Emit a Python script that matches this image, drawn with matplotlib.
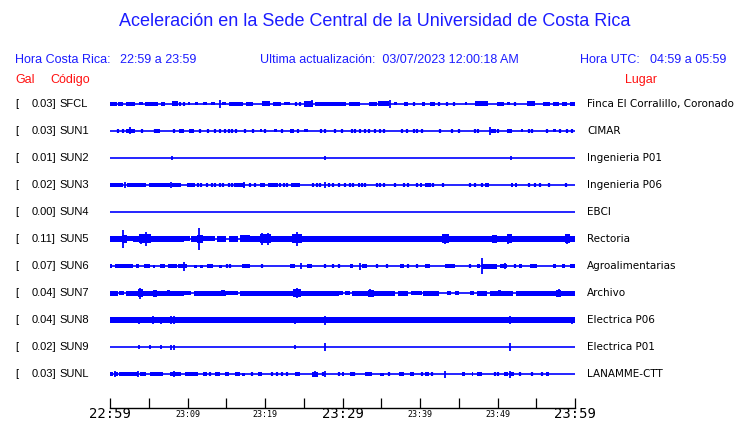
import matplotlib
matplotlib.use("Agg")
import matplotlib.pyplot as plt
from matplotlib.transforms import blended_transform_factory

# ---------------- data ----------------
codes = ["SFCL", "SUN1", "SUN2", "SUN3", "SUN4", "SUN5", "SUN6", "SUN7", "SUN8", "SUN9", "SUNL"]
gal = [0.03, 0.03, 0.01, 0.02, 0.00, 0.11, 0.07, 0.04, 0.04, 0.02, 0.03]
places = ["Finca El Corralillo, Coronado", "CIMAR", "Ingenieria P01", "Ingenieria P06", "EBCI",
          "Rectoria", "Agroalimentarias", "Archivo", "Electrica P06", "Electrica P01", "LANAMME-CTT"]
tick_minutes = list(range(0, 61, 5))
tick_labels = ["22:59", "", "23:09", "", "23:19", "", "23:29", "", "23:39", "", "23:49", "", "23:59"]

# envelope segments per station: (start minute, end minute, half amplitude)
sfcl_seg = [(0, 0.9, 2), (1, 1.7, 2), (2.1, 3.2, 2), (3.7, 4.3, 1.5), (4.5, 6.2, 2), (6.6, 7.1, 2),
            (8, 8.8, 2.5), (10, 10.3, 1.5), (11, 11.4, 1.5), (12, 12.5, 1.5), (13, 13.5, 1.5),
            (14.5, 15, 1.5), (15.3, 17.2, 2), (17.6, 18.5, 2), (19.6, 20.6, 2.5), (21, 22.1, 2),
            (22.5, 23.2, 1.5), (25, 26.2, 3), (26.5, 30.5, 2), (30.8, 32.3, 2), (33.4, 34.4, 2),
            (34.6, 36, 2.5), (36.6, 37, 1.5), (37.9, 38.5, 2), (40.2, 40.7, 2), (41.3, 41.9, 2),
            (45.8, 46.1, 1.5), (47.1, 48.8, 2.5), (49.9, 50.8, 2), (51.2, 51.6, 1.5), (53.8, 54.9, 2.5),
            (55.9, 56.8, 2), (57.2, 58, 2), (58.3, 59, 2), (59.3, 60, 2)]
sun1_seg = [(2, 3.2, 2), (5.9, 6.4, 1.8), (8.9, 9.5, 1.8), (10.2, 10.8, 2), (19.3, 19.6, 1.5),
            (21.2, 21.5, 1.5), (23.2, 23.7, 2), (25, 25.5, 1.5), (49.1, 49.8, 2), (51.2, 51.9, 2),
            (53, 53.3, 1.5), (57.2, 57.5, 1.5)]
sun2_seg = []
sun3_seg = [(0, 1.7, 2), (2.2, 4.7, 2), (5, 7.7, 2), (8, 9.2, 2), (9.9, 11, 1.8), (16.3, 17.4, 2),
            (19.4, 20, 1.8), (20.4, 21.7, 1.8), (23.4, 24.5, 2), (32, 32.3, 2), (40, 40.2, 2),
            (40.7, 41.1, 1.8), (48.4, 48.9, 2), (51.7, 52, 2), (52.2, 52.5, 2)]
sun4_seg = []
sun5_seg = [(0, 1.5, 3), (1.5, 2.2, 4), (2.2, 3, 2.5), (3, 3.8, 3), (3.8, 5.3, 4.5), (5.3, 9.6, 3),
            (9.6, 10.3, 2.5), (10.5, 11.2, 3), (11.2, 12, 4), (12, 13.5, 2.5), (13.8, 15, 3),
            (15.3, 16.5, 3), (16.8, 18, 3.5), (18, 19.3, 3), (19.3, 20.8, 4.5), (20.8, 23.5, 3),
            (23.5, 24.8, 4.5), (24.8, 30.5, 3), (30.5, 60, 3), (42.8, 43.8, 4.5), (49.3, 49.9, 4),
            (51.2, 51.9, 4.5), (58.7, 59.4, 4.5)]
sun6_seg = [(0, 0.3, 2), (0.65, 3, 2), (3.4, 3.7, 1.8), (4.4, 5.2, 2), (5.6, 5.8, 1.5), (6.5, 7.1, 2),
            (7.5, 8.6, 2), (8.8, 9.9, 2), (10.9, 11.2, 1.5), (11.6, 12, 1.5), (12.5, 13.3, 2),
            (14, 14.4, 1.5), (17, 18.1, 2), (23.2, 23.9, 2), (25.4, 26, 1.8), (31, 31.3, 2),
            (32.5, 33.1, 2), (37.4, 37.9, 2), (40.7, 41.3, 2), (43.2, 44.5, 2), (47.3, 47.8, 2),
            (48, 49.9, 2.5), (50.3, 51.2, 2), (52.8, 53.2, 1.8), (54.2, 55.1, 2), (57.2, 57.6, 2),
            (58.3, 58.7, 2), (59.3, 60, 2)]
sun7_seg = [(0, 1, 2.5), (1.2, 1.8, 2), (2, 9.5, 2.5), (9.5, 10.5, 2), (10.8, 15, 2.5), (15, 16.5, 2),
            (16.8, 29.5, 2.5), (29.5, 30, 2), (30.3, 31, 2), (31.2, 36.8, 2.5), (37.1, 38.5, 2.5),
            (38.8, 40.2, 2), (40.4, 42.5, 2.5), (43.5, 44, 2), (44.5, 45, 2), (46.5, 47, 2),
            (47.4, 48.6, 2.5), (49, 52, 2.5), (52.4, 60, 2.5), (3.6, 4.3, 4), (5.5, 6.1, 3.5),
            (7.3, 7.8, 3), (14.3, 14.8, 3), (23.6, 24.6, 4), (33.3, 34, 3.5), (50, 50.5, 3),
            (57.6, 58.2, 3.5)]
sun8_seg = [(0, 60, 3)]
sun9_seg = []
sunl_seg = [(0, 0.4, 2), (0.5, 1, 2), (1.1, 3.6, 2), (3.9, 4.6, 1.8), (5.2, 6.9, 2), (7.7, 9.2, 2),
            (9.7, 11.4, 2), (12, 12.5, 1.8), (13.6, 14.2, 1.8), (14.8, 15.3, 1.8), (16.1, 16.8, 2),
            (17, 17.4, 1.5), (19.1, 19.6, 2), (23.9, 24.5, 2), (26, 26.9, 2.5), (29.9, 30.2, 1.8),
            (31, 31.3, 1.8), (32.9, 33.8, 2), (34.8, 35.3, 1.5), (37.3, 37.9, 1.8), (38.7, 39.2, 2),
            (40.7, 41.1, 2), (45.4, 45.8, 2), (46.7, 46.9, 1.8), (47.3, 48, 2), (50.8, 51.4, 2),
            (51.6, 52.1, 2), (56.2, 56.6, 2)]

# isolated spikes per station: (minute, half amplitude)
sfcl_spk = [(14.2, 4), (36.15, 4), (26, 3.5)]
sun1_spk = [(2.6, 3.5), (49.05, 4)]
sun2_spk = [(8.0, 2), (27.7, 2), (51.7, 2)]
sun3_spk = [(1.9, 3), (7.9, 3), (17.3, 3), (27.7, 3)]
sun4_spk = []
sun5_spk = [(1.7, 9), (11.5, 11), (4.7, 7), (4.0, 5), (19.6, 6), (20.4, 6), (24.1, 7), (43.2, 5),
            (51.4, 5), (59.0, 5)]
sun6_spk = [(9.5, 4.5), (24.7, 3), (32.3, 3.5), (48.0, 8), (51.0, 3)]
sun7_spk = [(3.9, 5.5), (24.1, 5), (57.9, 4), (33.6, 4)]
sun8_spk = [(3.8, 3.5), (5.5, 4), (6.6, 3.5), (7.9, 4), (8.2, 4), (23.9, 3.5), (27.8, 4.5),
            (51.6, 4), (59.6, 3.5)]
sun9_spk = [(3.8, 2), (5.1, 2), (6.6, 2), (7.9, 2.5), (8.2, 2.5), (23.9, 2), (27.8, 4), (51.6, 4)]
sunl_spk = [(0.65, 3), (3.65, 3), (8.3, 3), (27.7, 3), (43.2, 3.5), (51.6, 3.5), (26.4, 3)]

# small blips per station (minutes)
sfcl_blip = [9.0, 9.5, 24.0, 24.5, 39.2, 42.5, 43.5, 44.4, 52.3]
sun1_blip = [1.08, 1.7, 4.1, 5.8, 8.2, 11.6, 12.7, 13.5, 14.2, 14.8, 15.3, 15.7, 16.3, 17.4, 18.5, 20,
             22.2, 24.3, 27.2, 27.7, 29, 29.9, 31.2, 31.6, 32.3, 32.9, 33.4, 34.2, 34.9, 35.3, 37.7,
             38.3, 39.2, 39.6, 40.2, 42.6, 44.1, 45, 47.1, 47.5, 50.1, 54, 54.4, 56.4, 58.1, 59, 59.6]
sun2_blip = []
sun3_blip = [11.4, 11.8, 12.5, 13.1, 13.5, 14.2, 14.6, 15.3, 15.7, 16.1, 18.1, 18.7, 21.9, 22.4, 22.8,
             26.2, 26.7, 27.1, 28.2, 28.8, 29.5, 30.3, 31, 31.4, 32.5, 32.9, 34.4, 34.9, 35.3, 36.8,
             37.9, 38.5, 39.6, 41.3, 41.7, 43, 46.5, 47.1, 48, 54, 54.9, 55.5, 56.6, 58.9]
sun4_blip = []
sun5_blip = []
sun6_blip = [15.1, 15.5, 19.6, 27.7, 28.8, 29.5, 34.4, 35.7, 38.4, 39.6, 46.5, 52.3]
sun7_blip = []
sun8_blip = []
sun9_blip = []
sunl_blip = [12.9, 18.3, 20.9, 21.5, 22.2, 22.8, 27.5, 29.5, 31.5, 36, 40.2, 41.5, 49.7, 50.1, 52.9,
             54.4, 55.7]

segments = [sfcl_seg, sun1_seg, sun2_seg, sun3_seg, sun4_seg, sun5_seg, sun6_seg, sun7_seg,
            sun8_seg, sun9_seg, sunl_seg]
spikes = [sfcl_spk, sun1_spk, sun2_spk, sun3_spk, sun4_spk, sun5_spk, sun6_spk, sun7_spk,
          sun8_spk, sun9_spk, sunl_spk]
blips = [sfcl_blip, sun1_blip, sun2_blip, sun3_blip, sun4_blip, sun5_blip, sun6_blip, sun7_blip,
         sun8_blip, sun9_blip, sunl_blip]

# ---------------- drawing ----------------
W, H = 740, 423
BLUE = "#0000FF"
TBLUE = "#1c1cff"
RED = "#FF1010"
ROW = 27.0  # amplitude units per row spacing

fig = plt.figure(figsize=(W / 100, H / 100), dpi=100)
fig.patch.set_facecolor("white")

def fx(px):
    return px / W

def fy(py):
    return 1 - py / H

x0, x1 = 110, 575
ax = fig.add_axes([fx(x0), fy(387.5), fx(x1) - fx(x0), fy(90.5) - fy(387.5)])
ax.set_xlim(0, 60)
ax.set_ylim(10.5, -0.5)
ax.axis("off")

n = len(codes)
rows = list(range(n))
ax.hlines(rows, 0, 60, color=BLUE, lw=1.2)
for i in rows:
    seg = segments[i]
    if seg:
        starts = [s[0] for s in seg]
        widths = [s[1] - s[0] for s in seg]
        amps = [s[2] / ROW for s in seg]
        ax.bar(starts, [2 * a for a in amps], width=widths, bottom=[i - a for a in amps],
               align="edge", color=BLUE, linewidth=0)
    if spikes[i]:
        ax.vlines([s[0] for s in spikes[i]], [i - s[1] / ROW for s in spikes[i]],
                  [i + s[1] / ROW for s in spikes[i]], color=BLUE, lw=1.3)
    if blips[i]:
        ax.vlines(blips[i], i - 1.8 / ROW, i + 1.8 / ROW, color=BLUE, lw=1.6)

# labels
tr = blended_transform_factory(fig.transFigure, ax.transData)
for i in rows:
    fig.text(fx(15), i, "[", transform=tr, va="center", ha="left", fontsize=8,
             family="Liberation Sans", color="black")
    fig.text(fx(56), i, f"{gal[i]:.2f}]", transform=tr, va="center", ha="right", fontsize=8,
             family="Liberation Sans", color="black")
    fig.text(fx(59), i, codes[i], transform=tr, va="center", ha="left", fontsize=8,
             family="Liberation Sans", color="black")
    fig.text(fx(587), i, places[i], transform=tr, va="center", ha="left", fontsize=7.5,
             family="DejaVu Sans", color="black")

# header
fig.text(fx(375), fy(22), "Aceleración en la Sede Central de la Universidad de Costa Rica",
         ha="center", va="center", fontsize=13, family="Liberation Sans", color=TBLUE)
fig.text(fx(15), fy(60), "Hora Costa Rica:", ha="left", va="center", fontsize=9,
         family="Liberation Sans", color=TBLUE)
fig.text(fx(120), fy(60), "22:59 a 23:59", ha="left", va="center", fontsize=9,
         family="Liberation Sans", color=TBLUE)
fig.text(fx(260), fy(60), "Ultima actualización:  03/07/2023 12:00:18 AM", ha="left", va="center",
         fontsize=9, family="Liberation Sans", color=TBLUE)
fig.text(fx(580), fy(60), "Hora UTC:", ha="left", va="center", fontsize=9,
         family="Liberation Sans", color=TBLUE)
fig.text(fx(650), fy(60), "04:59 a 05:59", ha="left", va="center", fontsize=9,
         family="Liberation Sans", color=TBLUE)
fig.text(fx(15), fy(80), "Gal", ha="left", va="center", fontsize=9, family="Liberation Sans", color=RED)
fig.text(fx(50), fy(80), "Código", ha="left", va="center", fontsize=9, family="Liberation Sans", color=RED)
fig.text(fx(641), fy(80), "Lugar", ha="center", va="center", fontsize=9, family="Liberation Sans", color=RED)

# time axis
tax = fig.add_axes([fx(x0), fy(408), fx(x1) - fx(x0), 10 / H])
tax.set_xlim(0, 60)
tax.set_ylim(0, 1)
for s in ["top", "left", "right"]:
    tax.spines[s].set_visible(False)
tax.spines["bottom"].set_linewidth(1.0)
tax.set_yticks([])
tax.set_xticks(tick_minutes)
tax.set_xticklabels([])
tax.tick_params(axis="x", direction="in", length=7.4, width=0.9, colors="black")
tax.patch.set_alpha(0)
ttr = blended_transform_factory(tax.transData, fig.transFigure)
for k, (m, lab) in enumerate(zip(tick_minutes, tick_labels)):
    if not lab:
        continue
    if k % 6 == 0:
        tax.text(m, fy(407), lab, transform=ttr, ha="center", va="top", fontsize=10,
                 family="DejaVu Sans Mono", color="black", clip_on=False)
    else:
        tax.text(m, fy(414), lab, transform=ttr, ha="center", va="center", fontsize=6,
                 family="DejaVu Sans Mono", color="black", clip_on=False)

fig.savefig("out.png", dpi=100, facecolor="white")
